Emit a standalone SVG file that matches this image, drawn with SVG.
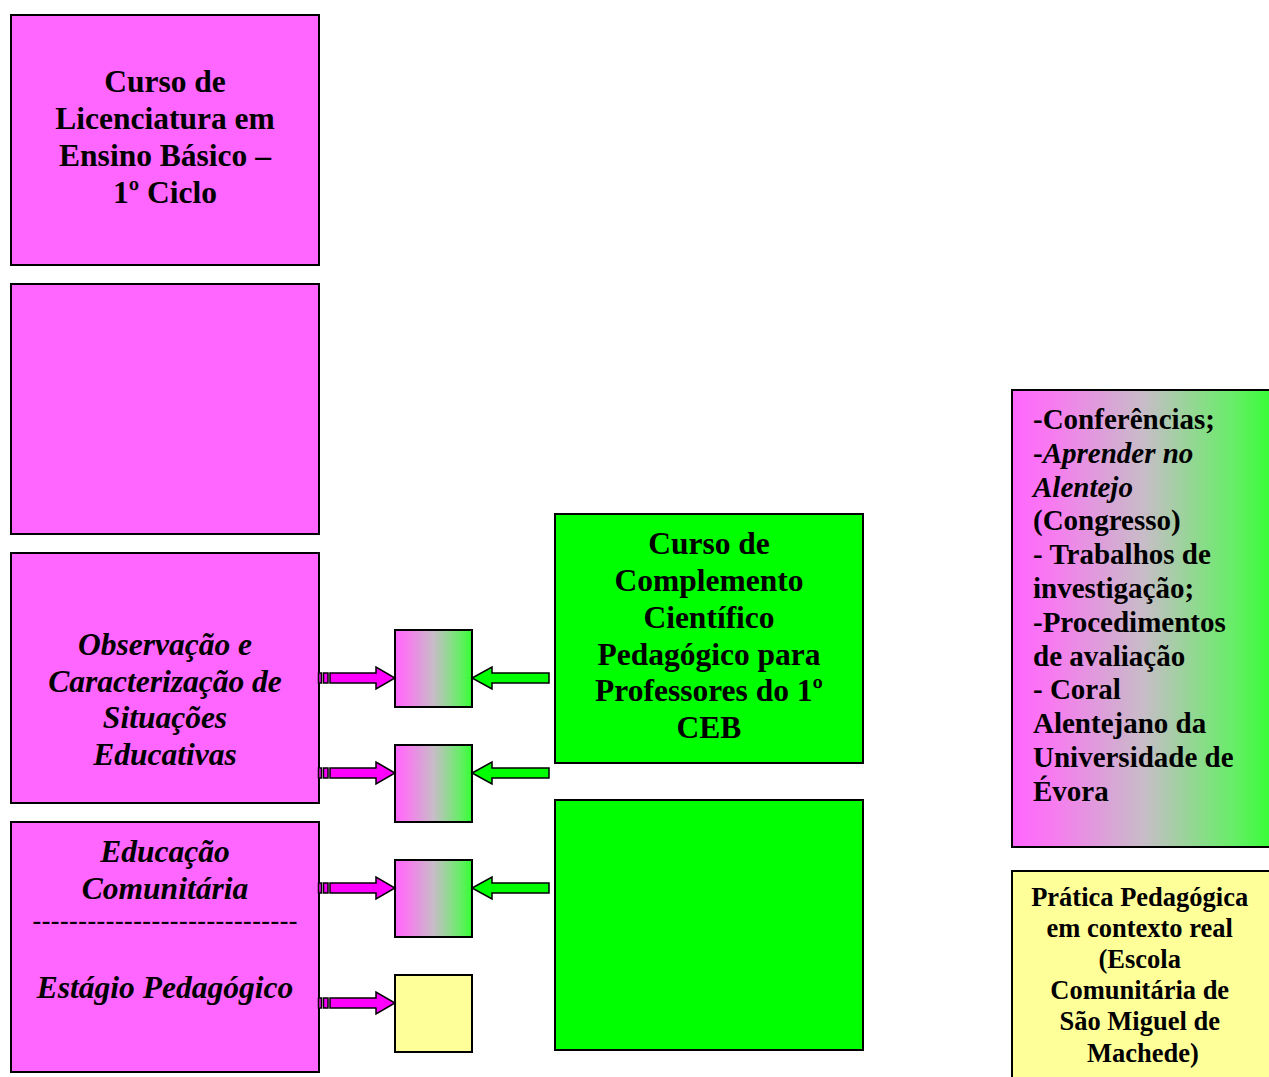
<svg xmlns="http://www.w3.org/2000/svg" width="1269" height="1077" viewBox="0 0 1269 1077">
<defs>
<linearGradient id="mg" x1="0" y1="0" x2="1" y2="0">
<stop offset="0" stop-color="#FF66FF"/>
<stop offset="0.15" stop-color="#F87AF0"/>
<stop offset="0.5" stop-color="#C8BCC8"/>
<stop offset="0.85" stop-color="#66EE66"/>
<stop offset="1" stop-color="#33FF33"/>
</linearGradient>
<style>
.box{stroke:#000;stroke-width:2}
.mag{fill:#FF66FF}
.grn{fill:#00FF00}
.yel{fill:#FFFF99}
.grd{fill:url(#mg)}
.t{font-family:"Liberation Serif","Times New Roman",serif;font-weight:bold;fill:#000}
.c{text-anchor:middle}
.i{font-style:italic}
.arr{stroke:#000;stroke-width:1.5;stroke-linejoin:miter}
</style>
</defs>

<g id="node-licenciatura">
<rect class="box mag" x="11" y="15" width="308" height="250"/>
<text class="t c" font-size="31.5" x="165"><tspan x="165" y="92">Curso de</tspan><tspan x="165" y="129">Licenciatura em</tspan><tspan x="165" y="166">Ensino Básico –</tspan><tspan x="165" y="203">1º Ciclo</tspan></text>
</g>

<g id="node-empty-magenta">
<rect class="box mag" x="11" y="284" width="308" height="250"/>
</g>

<g id="node-observacao">
<rect class="box mag" x="11" y="553" width="308" height="250"/>
<text class="t c i" font-size="31.5"><tspan x="165" y="655">Observação e</tspan><tspan x="165" y="692">Caracterização de</tspan><tspan x="165" y="728">Situações</tspan><tspan x="165" y="765">Educativas</tspan></text>
</g>

<g id="node-educacao">
<rect class="box mag" x="11" y="822" width="308" height="250"/>
<text class="t c i" font-size="31.5"><tspan x="165" y="862">Educação</tspan><tspan x="165" y="899">Comunitária</tspan></text>
<text class="t c" font-size="26" x="165" y="929" textLength="265" lengthAdjust="spacing">-----------------------------</text>
<text class="t c i" font-size="31.5" x="165" y="998">Estágio Pedagógico</text>
</g>

<g id="node-complemento">
<rect class="box grn" x="555" y="514" width="308" height="249"/>
<text class="t c" font-size="31.5"><tspan x="709" y="554">Curso de</tspan><tspan x="709" y="591">Complemento</tspan><tspan x="709" y="628">Científico</tspan><tspan x="709" y="665">Pedagógico para</tspan><tspan x="709" y="701">Professores do 1º</tspan><tspan x="709" y="738">CEB</tspan></text>
</g>

<g id="node-empty-green">
<rect class="box grn" x="555" y="800" width="308" height="250"/>
</g>

<g id="node-sq1"><rect class="box grd" x="395" y="630" width="77" height="77"/></g>
<g id="node-sq2"><rect class="box grd" x="395" y="745" width="77" height="77"/></g>
<g id="node-sq3"><rect class="box grd" x="395" y="860" width="77" height="77"/></g>
<g id="node-sq4"><rect class="box yel" x="395" y="975" width="77" height="77"/></g>

<g id="node-atividades">
<rect class="box grd" x="1012" y="390" width="262" height="457"/>
<text class="t" font-size="29">
<tspan x="1033" y="429">-Conferências;</tspan>
<tspan x="1033" y="463">-<tspan font-style="italic">Aprender no</tspan></tspan>
<tspan x="1033" y="497" font-style="italic">Alentejo</tspan>
<tspan x="1033" y="530">(Congresso)</tspan>
<tspan x="1033" y="564">- Trabalhos de</tspan>
<tspan x="1033" y="598">investigação;</tspan>
<tspan x="1033" y="632">-Procedimentos</tspan>
<tspan x="1033" y="666">de avaliação</tspan>
<tspan x="1033" y="699">- Coral</tspan>
<tspan x="1033" y="733">Alentejano da</tspan>
<tspan x="1033" y="767">Universidade de</tspan>
<tspan x="1033" y="801">Évora</tspan>
</text>
</g>

<g id="node-pratica">
<rect class="box yel" x="1012" y="871" width="270" height="215"/>
<text class="t c" font-size="26.5">
<tspan x="1143" y="906">Prática Pedagógica</tspan>
<tspan x="1143" y="937">em contexto real</tspan>
<tspan x="1143" y="968">(Escola</tspan>
<tspan x="1143" y="999">Comunitária de</tspan>
<tspan x="1143" y="1030">São Miguel de</tspan>
<tspan x="1143" y="1062">Machede)</tspan>
</text>
</g>

<g id="connectors">
<g class="arr" fill="#FF00FF">
<g transform="translate(0,678)">
<rect x="318.5" y="-5" width="3" height="10"/><rect x="323.5" y="-5" width="4.5" height="10"/>
<path d="M330,-5 H376 V-11 L395,0 L376,11 V5 H330 Z"/>
</g>
<g transform="translate(0,773)">
<rect x="318.5" y="-5" width="3" height="10"/><rect x="323.5" y="-5" width="4.5" height="10"/>
<path d="M330,-5 H376 V-11 L395,0 L376,11 V5 H330 Z"/>
</g>
<g transform="translate(0,888)">
<rect x="318.5" y="-5" width="3" height="10"/><rect x="323.5" y="-5" width="4.5" height="10"/>
<path d="M330,-5 H376 V-11 L395,0 L376,11 V5 H330 Z"/>
</g>
<g transform="translate(0,1003)">
<rect x="318.5" y="-5" width="3" height="10"/><rect x="323.5" y="-5" width="4.5" height="10"/>
<path d="M330,-5 H376 V-11 L395,0 L376,11 V5 H330 Z"/>
</g>
</g>
<g class="arr" fill="#00FF00">
<path transform="translate(0,678)" d="M549,-5 H492 V-11 L472,0 L492,11 V5 H549 Z"/>
<path transform="translate(0,773)" d="M549,-5 H492 V-11 L472,0 L492,11 V5 H549 Z"/>
<path transform="translate(0,888)" d="M549,-5 H492 V-11 L472,0 L492,11 V5 H549 Z"/>
</g>
</g>
</svg>
